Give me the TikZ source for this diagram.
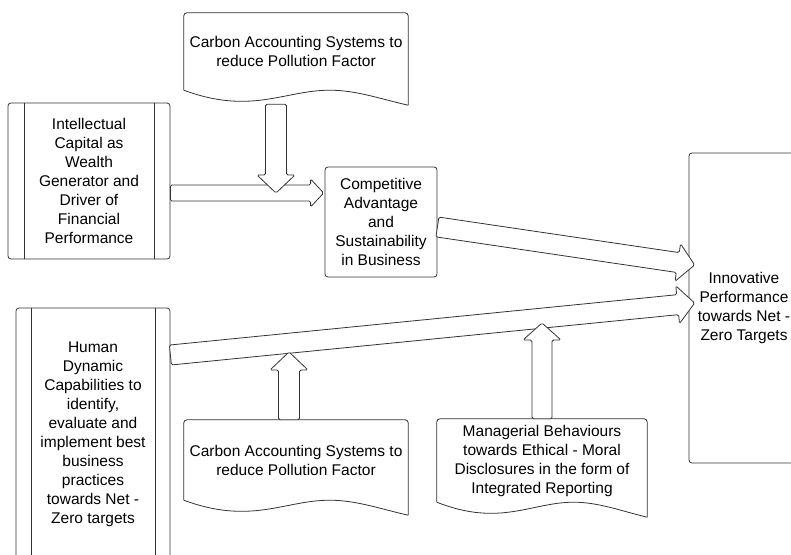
\documentclass[tikz,border=0pt]{standalone}
\usepackage{fontspec}
\setmainfont{Liberation Sans}
\usepackage{tikz}
\usetikzlibrary{calc}

% outline of a document shape round a named node
\newcommand{\docoutline}[1]{%
  \draw[line] [rounded corners=3pt] (#1.south west) -- (#1.north west) -- (#1.north east) -- ($(#1.south east)+(0,15)$);
  \draw[line] let \p1=(#1.south west), \p2=(#1.south east), \n1={\x2-\x1} in
    (\p1) .. controls +(0.3*\n1,-25pt) and +(-0.2*\n1,0pt) .. ($(\p1)+(0.65*\n1,0pt)$)
          .. controls +(0.12*\n1,0pt) and +(-0.12*\n1,6pt) .. ($(\p2)+(0pt,-15pt)$);
}

\begin{document}
\begin{tikzpicture}[
    x=1pt, y=-1pt,
    line/.style={draw=black!80, line width=0.8pt},
    txt/.style={align=center, font=\fontsize{15.5}{19}\selectfont, inner sep=0pt},
    box/.style={txt, line, rounded corners=3pt},
    docbox/.style={txt},
    fatarr/.style n args={3}{line, fill=white, rounded corners=1.5pt, to path={
      let \p1=(\tikztostart), \p2=(\tikztotarget),
          \n1={atan2(\y2-\y1,\x2-\x1)}, \n2={veclen(\x2-\x1,\y2-\y1)} in
      ($(\p1)+(\n1+90:#1/2)$) -- ($(\p1)+(\n1:\n2-#3)+(\n1+90:#1/2)$)
      -- ($(\p1)+(\n1:\n2-#3)+(\n1+90:#2/2)$) -- (\p2)
      -- ($(\p1)+(\n1:\n2-#3)+(\n1-90:#2/2)$) -- ($(\p1)+(\n1:\n2-#3)+(\n1-90:#1/2)$)
      -- ($(\p1)+(\n1-90:#1/2)$) -- cycle}},
  ]
  \useasboundingbox (0,0) rectangle (791,554);

  \node[docbox, minimum width=224pt, minimum height=77pt] (ctop) at (296,51.5)
    {Carbon Accounting Systems to\\reduce Pollution Factor};
  \docoutline{ctop}

  \node[box, minimum width=162pt, minimum height=156pt] (intel) at (89,181)
    {Intellectual\\Capital as\\Wealth\\Generator and\\Driver of\\Financial\\Performance};
  \draw[line] ($(intel.north west)+(17,0)$) -- ($(intel.south west)+(17,0)$);
  \draw[line] ($(intel.north east)+(-16,0)$) -- ($(intel.south east)+(-16,0)$);

  \node[box, minimum width=112pt, minimum height=110pt] (comp) at (381,222)
    {Competitive\\Advantage\\and\\Sustainability\\in Business};

  \node[box, minimum width=110pt, minimum height=310pt] (innov) at (744,308)
    {Innovative\\Performance\\towards Net -\\Zero Targets};

  \node[box, minimum width=154pt, minimum height=252pt] (human) at (93,434)
    {Human\\Dynamic\\Capabilities to\\identify,\\evaluate and\\implement best\\business\\practices\\towards Net -\\Zero targets};
  \draw[line] ($(human.north west)+(16,0)$) -- ($(human.south west)+(16,0)$);
  \draw[line] ($(human.north east)+(-15,0)$) -- ($(human.south east)+(-15,0)$);

  \node[docbox, minimum width=224pt, minimum height=80pt] (cbot) at (296,460)
    {Carbon Accounting Systems to\\reduce Pollution Factor};
  \docoutline{cbot}

  \node[docbox, minimum width=210pt, minimum height=83pt] (manag) at (542,460.5)
    {Managerial Behaviours\\towards Ethical - Moral\\Disclosures in the form of\\Integrated Reporting};
  \docoutline{manag}

  \coordinate (ctip) at (276,193);
  \coordinate (cbtip) at (289,352);
  \coordinate (mtip) at (542,323);

  \draw[fatarr={16pt}{28pt}{13pt}] ($(intel.east)+(0,12)$) to ($(comp.west |- intel.east)+(-1,12)$);
  \draw[fatarr={21pt}{38pt}{18pt}] ($(ctop.south)+(-20,14)$) to (ctip);
  \draw[fatarr={20pt}{38pt}{17pt}] ($(comp.east)+(0,5)$) to ($(innov.west)+(6,-43)$);
  \draw[fatarr={20pt}{38pt}{17pt}] ($(human.east)+(0,-79)$) to ($(innov.west)+(6,-5)$);
  \draw[fatarr={21pt}{38pt}{18pt}] ($(cbot.north)+(-7,0)$) to (cbtip);
  \draw[fatarr={20pt}{38pt}{17pt}] (manag.north) to (mtip);
\end{tikzpicture}
\end{document}
